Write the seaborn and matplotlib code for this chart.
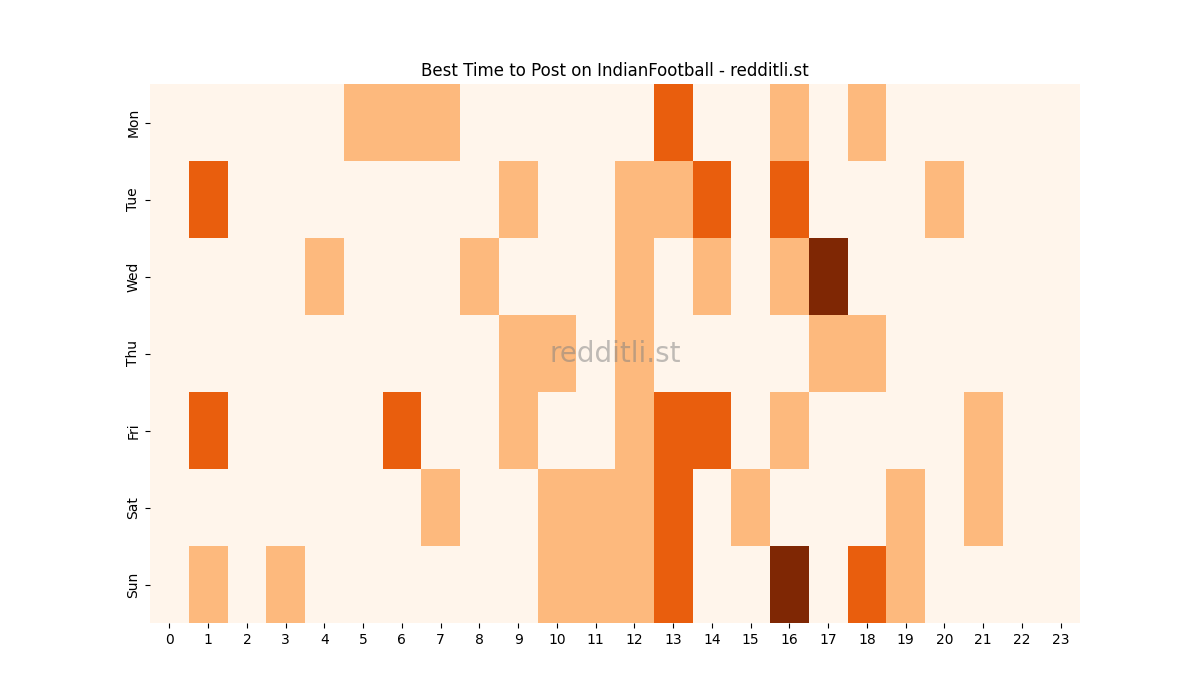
import numpy as np
import pandas as pd
import matplotlib
matplotlib.use("Agg")
import matplotlib.pyplot as plt
import seaborn as sns

days = ["Mon", "Tue", "Wed", "Thu", "Fri", "Sat", "Sun"]
hours = list(range(24))

mon = [0,0,0,0,0,1,1,1,0,0,0,0,0,2,0,0,1,0,1,0,0,0,0,0]
tue = [0,2,0,0,0,0,0,0,0,1,0,0,1,1,2,0,2,0,0,0,1,0,0,0]
wed = [0,0,0,0,1,0,0,0,1,0,0,0,1,0,1,0,1,3,0,0,0,0,0,0]
thu = [0,0,0,0,0,0,0,0,0,1,1,0,1,0,0,0,0,1,1,0,0,0,0,0]
fri = [0,2,0,0,0,0,2,0,0,1,0,0,1,2,2,0,1,0,0,0,0,1,0,0]
sat = [0,0,0,0,0,0,0,1,0,0,1,1,1,2,0,1,0,0,0,1,0,1,0,0]
sun = [0,1,0,1,0,0,0,0,0,0,1,1,1,2,0,0,3,0,2,1,0,0,0,0]

df = pd.DataFrame([mon, tue, wed, thu, fri, sat, sun], index=days, columns=hours)

fig, ax = plt.subplots(figsize=(12, 7), dpi=100)
sns.heatmap(df, cmap="Oranges", cbar=False, ax=ax, vmin=0, vmax=3)
ax.set_title("Best Time to Post on IndianFootball - redditli.st")
ax.set_xlabel("")
ax.set_ylabel("")
ax.tick_params(axis="x", rotation=0)
ax.tick_params(axis="y", rotation=90)
ax.text(0.5, 0.5, "redditli.st", transform=ax.transAxes, fontsize=20,
        color="gray", alpha=0.5, ha="center", va="center")
fig.savefig("out.png", dpi=100)
